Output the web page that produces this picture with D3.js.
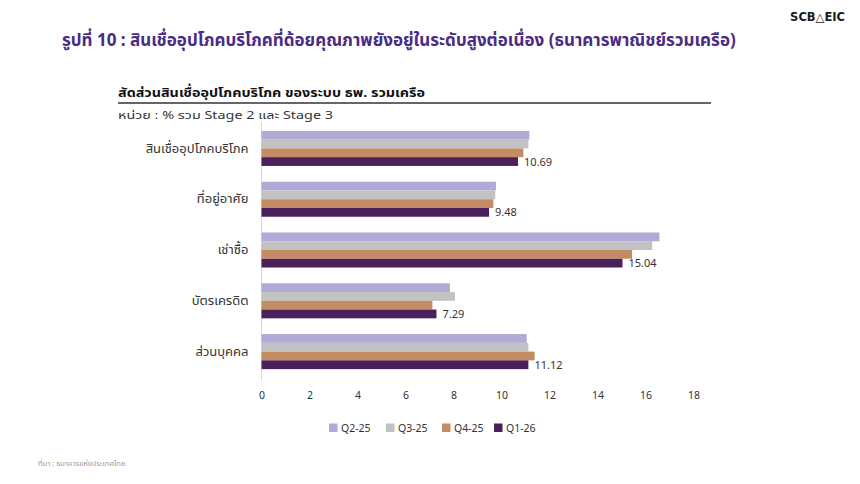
<!DOCTYPE html>
<html>
<head>
<meta charset="utf-8">
<script src="https://cdn.jsdelivr.net/npm/d3@7"></script>
<style>
  html, body { margin: 0; padding: 0; background: #fff; }
  svg { display: block; font-family: "Noto Sans Thai", "Noto Sans", "DejaVu Sans", sans-serif; }
</style>
</head>
<body>
<svg id="chart" width="860" height="484"></svg>
<script>
// categories, top to bottom
const categories = ["สินเชื่ออุปโภคบริโภค", "ที่อยู่อาศัย", "เช่าซื้อ", "บัตรเครดิต", "ส่วนบุคคล"];
// quarters (series)
const quarters = ["Q2-25", "Q3-25", "Q4-25", "Q1-26"];
const colors = ["#b1aad6", "#c2c2c2", "#c38c64", "#4b1f5a"];
// % of loans in Stage 2 + Stage 3, one array per quarter
const q225 = [11.16, 9.77, 16.58, 7.85, 11.05];
const q325 = [11.12, 9.74, 16.28, 8.06, 11.12];
const q425 = [10.91, 9.66, 15.44, 7.12, 11.38];
const q126 = [10.69, 9.48, 15.04, 7.29, 11.12];
const series = [q225, q325, q425, q126];
const xTicks = [0, 2, 4, 6, 8, 10, 12, 14, 16, 18];

const svg = d3.select("#chart");

// header
svg.append("text")
    .attr("x", 845).attr("y", 21)
    .attr("text-anchor", "end")
    .style("font-family", "'DejaVu Sans', sans-serif")
    .style("font-size", "11.5px").style("font-weight", "bold")
    .attr("fill", "#1a1a1a")
    .text("SCB△EIC");

svg.append("text")
    .attr("x", 62).attr("y", 46)
    .style("font-size", "17px").style("font-weight", "bold")
    .attr("fill", "#4a2c86")
    .text("รูปที่ 10 : สินเชื่ออุปโภคบริโภคที่ด้อยคุณภาพยังอยู่ในระดับสูงต่อเนื่อง (ธนาคารพาณิชย์รวมเครือ)");

svg.append("text")
    .attr("x", 118).attr("y", 97)
    .style("font-size", "13px").style("font-weight", "bold")
    .attr("fill", "#111")
    .attr("textLength", 307).attr("lengthAdjust", "spacingAndGlyphs")
    .text("สัดส่วนสินเชื่ออุปโภคบริโภค ของระบบ ธพ. รวมเครือ");

svg.append("line")
    .attr("x1", 118).attr("x2", 711)
    .attr("y1", 103).attr("y2", 103)
    .attr("stroke", "#333").attr("stroke-width", 1.5);

svg.append("text")
    .attr("x", 118).attr("y", 119)
    .style("font-size", "11px")
    .attr("fill", "#333")
    .attr("textLength", 215).attr("lengthAdjust", "spacingAndGlyphs")
    .text("หน่วย : % รวม Stage 2 และ Stage 3");

// scales
const x = d3.scaleLinear().domain([0, 18]).range([261.5, 693.5]);
const y = d3.scaleBand().domain(categories).range([123, 377])
    .paddingInner(0.31).paddingOuter(0.155);
const ySub = d3.scaleBand().domain(quarters).range([0, y.bandwidth()]);

// vertical axis line
svg.append("line")
    .attr("x1", x(0)).attr("x2", x(0))
    .attr("y1", 122).attr("y2", 381)
    .attr("stroke", "#d9d9d9").attr("stroke-width", 1);

// bars
const groups = svg.append("g").selectAll("g")
    .data(categories)
    .join("g")
    .attr("transform", d => `translate(0,${y(d)})`);

groups.selectAll("rect")
    .data((d, i) => quarters.map((q, j) => ({ q, j, v: series[j][i] })))
    .join("rect")
    .attr("x", x(0))
    .attr("y", d => ySub(d.q))
    .attr("width", d => x(d.v) - x(0))
    .attr("height", ySub.bandwidth())
    .attr("fill", d => colors[d.j]);

// value labels for latest quarter
groups.append("text")
    .attr("x", (d, i) => x(q126[i]) + 6)
    .attr("y", ySub("Q1-26") + ySub.bandwidth() / 2 + 4)
    .style("font-size", "11px")
    .attr("fill", "#333")
    .text((d, i) => q126[i].toFixed(2));

// category labels
svg.append("g")
    .attr("transform", `translate(${x(0)},0)`)
    .call(d3.axisLeft(y).tickSize(0).tickPadding(13))
    .call(g => g.select(".domain").remove())
    .selectAll("text")
    .style("font-size", "13px")
    .style("font-family", "'Noto Sans Thai', 'Noto Sans', sans-serif")
    .attr("fill", "#333");

// x axis
svg.append("g")
    .attr("transform", "translate(0,388)")
    .call(d3.axisBottom(x).tickValues(xTicks).tickSize(0).tickPadding(4))
    .call(g => g.select(".domain").remove())
    .selectAll("text")
    .style("font-size", "10.5px")
    .style("font-family", "'Noto Sans', sans-serif")
    .attr("fill", "#333");

// legend
const legendX = [329, 386, 442, 494];
const legend = svg.append("g").selectAll("g")
    .data(quarters)
    .join("g")
    .attr("transform", (d, i) => `translate(${legendX[i]},423.5)`);
legend.append("rect")
    .attr("width", 8.5).attr("height", 8.5)
    .attr("fill", (d, i) => colors[i]);
legend.append("text")
    .attr("x", 12).attr("y", 8.5)
    .style("font-size", "10.5px")
    .attr("fill", "#333")
    .text(d => d);

// source
svg.append("text")
    .attr("x", 38).attr("y", 466)
    .style("font-size", "7.5px")
    .attr("fill", "#999")
    .text("ที่มา : ธนาคารแห่งประเทศไทย");
</script>
</body>
</html>
